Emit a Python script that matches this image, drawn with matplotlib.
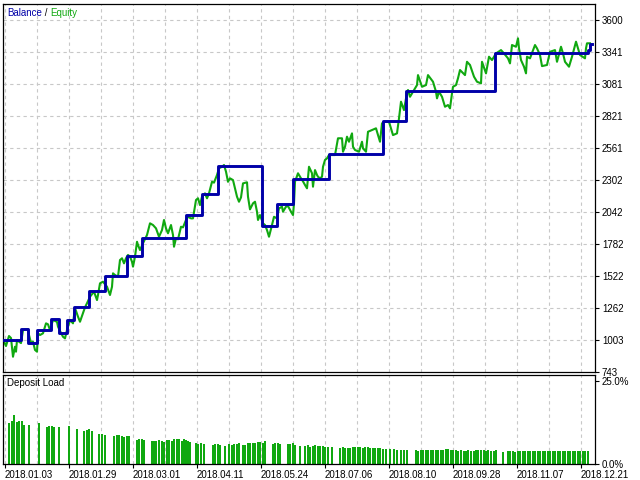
import matplotlib
matplotlib.use('Agg')
import matplotlib.pyplot as plt

# balance steps: position along the test, level after the deal
bal_pos = [4, 21, 28, 37, 51, 59, 67, 74, 89, 105, 127, 142, 186, 202, 218,
           262, 277, 293, 329, 383, 406, 495, 588, 590]
bal_val = [1003, 1092, 981, 1084, 1173, 1062, 1165, 1273, 1400, 1525, 1687, 1833,
           2017, 2188, 2417, 1928, 2104, 2309, 2512, 2780, 3024, 3334, 3360, 3405]

eq_pos = [4, 6, 9, 11, 13, 15, 16, 17, 19, 21, 23, 28, 29, 31, 33, 35, 37, 38, 40, 43,
          46, 48, 50, 53, 57, 58, 61, 63, 65, 67, 70, 73, 75, 78, 80, 83, 85, 87, 90, 94,
          97, 98, 100, 103, 107, 110, 112, 113, 115, 118, 120, 122, 124, 126, 128, 130, 132,
          133, 135, 137, 138, 140, 143, 147, 150, 153, 156, 159, 162, 164, 166, 168, 171,
          173, 174, 176, 178, 181, 183, 186, 188, 191, 193, 196, 198, 200, 202, 205, 207,
          209, 212, 214, 217, 219, 222, 224, 226, 228, 230, 233, 235, 237, 239, 241, 243,
          247, 248, 250, 253, 255, 257, 258, 260, 263, 265, 267, 269, 272, 274, 277, 279,
          282, 283, 286, 288, 291, 293, 294, 295, 298, 301, 303, 305, 307, 309, 312, 313,
          315, 317, 318, 320, 322, 323, 325, 327, 329, 335, 338, 342, 343, 345, 347, 349,
          352, 353, 355, 359, 362, 363, 366, 368, 372, 376, 378, 380, 382, 384, 389, 391,
          393, 397, 399, 401, 404, 406, 408, 410, 414, 417, 418, 422, 426, 428, 433, 436,
          437, 439, 442, 443, 445, 448, 450, 452, 453, 456, 458, 460, 465, 467, 470, 474,
          477, 481, 482, 486, 489, 492, 496, 501, 504, 508, 510, 512, 516, 518, 519, 521,
          524, 526, 527, 530, 535, 537, 540, 542, 547, 550, 555, 557, 561, 563, 565, 569,
          572, 576, 578, 580, 585, 586, 587, 590]
eq_val = [989, 954, 1035, 1019, 867, 948, 908, 1003, 989, 978, 1084, 1090, 1043, 978, 989,
          922, 908, 1057, 1043, 1057, 1138, 1130, 1084, 1165, 1150, 1111, 1060, 1029, 1016,
          1084, 1165, 1138, 1262, 1192, 1151, 1222, 1268, 1301, 1354, 1395, 1327, 1368, 1463,
          1476, 1435, 1368, 1435, 1544, 1530, 1516, 1652, 1666, 1625, 1666, 1693, 1680, 1638,
          1598, 1679, 1800, 1774, 1733, 1788, 1855, 1950, 1936, 1909, 1841, 1895, 1977, 1909,
          1869, 1936, 1855, 1760, 1828, 1820, 1922, 1917, 1977, 2003, 1990, 1990, 2139, 2153,
          2098, 2166, 2193, 2153, 2193, 2287, 2280, 2342, 2396, 2409, 2423, 2369, 2287, 2315,
          2301, 2234, 2166, 2125, 2160, 2274, 2283, 2166, 2063, 2112, 2125, 2044, 1977, 2017,
          1950, 1936, 1895, 1841, 1936, 2003, 1990, 2071, 2085, 2044, 2085, 2090, 2044, 2017,
          2112, 2287, 2356, 2315, 2290, 2261, 2234, 2409, 2356, 2247, 2382, 2342, 2328, 2315,
          2328, 2409, 2464, 2477, 2504, 2504, 2640, 2640, 2531, 2571, 2653, 2612, 2680, 2571,
          2545, 2531, 2612, 2558, 2531, 2693, 2707, 2721, 2666, 2612, 2761, 2774, 2774, 2721,
          2666, 2680, 2802, 2937, 2869, 2964, 3032, 2977, 3032, 3072, 3153, 3058, 3072, 3153,
          3099, 3018, 2964, 3018, 2977, 2950, 2896, 2910, 2883, 3005, 3058, 3072, 3127, 3194,
          3153, 3261, 3235, 3140, 3099, 3086, 3261, 3167, 3302, 3275, 3329, 3356, 3329, 3289,
          3248, 3397, 3383, 3451, 3370, 3275, 3221, 3167, 3302, 3289, 3397, 3370, 3316, 3226,
          3235, 3342, 3356, 3261, 3383, 3329, 3261, 3221, 3302, 3424, 3370, 3316, 3289, 3370,
          3411, 3411]

# deposit load, percent
load_pos = [8.3, 10.7, 13.3, 15.7, 18.3, 20.7, 23.3, 28.3, 38.3, 45.7, 48.3, 50.7, 53.3, 58.3,
            68.3, 76, 83.3, 85.7, 88.3, 90.7, 98.3, 100.7, 104, 113.3, 115.7, 118.3, 120.7,
            123.3, 126, 128.3, 135.7, 138.3, 140.7, 143.3, 150.7, 153, 155, 158.3, 161, 163.3,
            166, 168.3, 170.7, 173.3, 176, 178.3, 180.7, 183, 185, 187.3, 189.3, 195, 197.3,
            200, 203.3, 211.7, 214.3, 216.7, 219, 224, 228.3, 230.7, 233.3, 235.7, 238.3,
            241.7, 244.3, 246.7, 249.3, 251.7, 254, 256.7, 259, 261.7, 264, 271.7, 274, 276.7,
            279, 286.7, 289, 291.7, 294, 299, 304, 306.7, 309.3, 311.7, 314.3, 316.7, 319,
            321.7, 324.3, 327.3, 330.7, 339, 341.7, 344, 346.7, 349.3, 351.7, 354, 356.7,
            359.3, 361.7, 364, 366.7, 369.3, 371.7, 374, 376.7, 379.3, 381.7, 385, 389, 392.7,
            396, 400, 403.3, 406, 415, 417.3, 420, 422.3, 425, 427.3, 430, 432.3, 435, 437.3,
            440, 442.3, 445, 447.3, 450, 452.3, 455, 457.3, 460, 462.7, 465, 467.3, 470, 472.7,
            475, 477.3, 480, 482.7, 485, 487.3, 490, 492.7, 495, 501.7, 506.7, 509, 511.7,
            514.3, 516.7, 519.3, 521.7, 524.3, 526.7, 529, 531.7, 534, 536.7, 539, 541.7, 544,
            546.7, 549.3, 551.7, 554, 556.7, 559.3, 561.7, 564, 566.7, 569.3, 571.7, 574,
            576.7, 579.3, 581.7, 584, 586.7]
load_val = [12.4, 12.9, 14.8, 12.7, 12.9, 12.9, 11.8, 11.8, 12.3, 11.2, 11.4, 11.4, 11.0, 11.1,
            11.5, 10.5, 10.0, 10.2, 10.5, 9.9, 9.1, 9.1, 8.8, 8.4, 8.7, 8.7, 8.4, 8.1, 8.4, 8.5,
            7.3, 7.5, 7.4, 7.2, 7.0, 7.0, 7.0, 7.2, 7.0, 6.7, 7.2, 7.2, 7.0, 7.5, 7.4, 7.4, 6.9,
            7.4, 7.1, 6.8, 6.7, 6.2, 6.1, 6.2, 6.0, 5.8, 6.0, 6.0, 5.7, 5.5, 5.9, 5.7, 6.0, 6.1,
            6.2, 5.8, 5.8, 6.2, 6.4, 6.3, 6.3, 6.5, 6.5, 6.3, 6.9, 6.1, 6.3, 6.3, 6.0, 6.0, 6.0,
            6.2, 5.6, 5.4, 5.4, 5.6, 5.1, 5.5, 5.8, 5.3, 5.4, 5.4, 5.2, 5.1, 5.1, 4.8, 5.0, 4.9,
            4.8, 4.9, 5.0, 5.1, 5.1, 5.0, 4.8, 5.1, 5.0, 4.9, 4.8, 4.8, 4.8, 4.8, 4.6, 4.5, 4.5,
            4.5, 4.3, 4.2, 4.2, 4.2, 4.2, 3.9, 4.1, 4.2, 4.2, 4.1, 4.2, 4.2, 4.2, 4.3, 4.2, 4.2,
            4.5, 4.4, 4.3, 4.2, 4.1, 4.0, 4.1, 4.0, 4.0, 4.1, 4.0, 4.0, 4.1, 4.1, 4.2, 4.1, 4.0,
            4.1, 3.9, 4.0, 4.1, 3.6, 3.9, 3.9, 3.9, 3.7, 3.8, 3.9, 3.9, 3.9, 3.9, 3.9, 3.9, 3.9,
            3.8, 3.9, 3.9, 3.9, 4.0, 3.9, 3.9, 3.9, 3.9, 3.9, 3.9, 3.8, 3.9, 3.9, 3.9, 3.8, 3.9,
            3.9, 3.9, 3.9, 3.8]

date_labels = ['2018.01.03', '2018.01.29', '2018.03.01', '2018.04.11', '2018.05.24',
               '2018.07.06', '2018.08.10', '2018.09.28', '2018.11.07', '2018.12.21']
bal_ticks = [743, 1003, 1262, 1522, 1782, 2042, 2302, 2561, 2821, 3081, 3341, 3600]

BLUE = '#0000A8'
GREEN = '#10A810'
GRID = '#C8C8C8'
plt.rcParams['font.family'] = ['Liberation Sans', 'DejaVu Sans']
plt.rcParams['font.size'] = 7

W, H = 640, 480
fig = plt.figure(figsize=(6.4, 4.8), dpi=100)
ax = fig.add_axes([3 / W, 1 - 372 / H, 592 / W, 368 / H])
ax2 = fig.add_axes([3 / W, 1 - 464 / H, 592 / W, 89 / H])

grid_x = [4.7 + 32 * k for k in range(19)]
label_x = grid_x[::2]

for a in (ax, ax2):
    a.set_xlim(3, 595)
    for gx in grid_x:
        a.axvline(gx, color=GRID, lw=0.8, ls=(0, (3, 3)), zorder=0)
    for s in a.spines.values():
        s.set_color('black')
        s.set_linewidth(0.9)
    a.yaxis.tick_right()
    a.tick_params(axis='y', direction='out', length=3, width=0.8, pad=2, labelsize=7)

# main panel
ax.set_ylim(743, 3730)
ax.set_yticks(bal_ticks)
ax.set_yticklabels([str(t) for t in bal_ticks])
for t in bal_ticks[1:]:
    ax.axhline(t, color=GRID, lw=0.8, ls=(0, (3, 3)), zorder=0)
ax.set_xticks([])
ax.plot(eq_pos, eq_val, color=GREEN, lw=1.5, zorder=2)
ax.plot(bal_pos + [592], bal_val + [bal_val[-1]], color=BLUE, lw=2.1,
        drawstyle='steps-post', zorder=3)

t1 = ax.text(4 / 592, 1 - 9 / 368, 'Balance', color=BLUE, transform=ax.transAxes,
             ha='left', va='center', fontsize=7)
t2 = ax.annotate(' / ', xy=(1, 0), xycoords=t1, ha='left', va='bottom',
                 color='black', fontsize=7)
ax.annotate('Equity', xy=(1, 0), xycoords=t2, ha='left', va='bottom',
            color=GREEN, fontsize=7)

# deposit load panel
ax2.set_ylim(0, 26.8)
ax2.set_yticks([0, 25])
ax2.set_yticklabels(['0.0%', '25.0%'])
ax2.bar(load_pos, load_val, width=2.0, color=GREEN, align='edge', zorder=2)
ax2.set_xticks(label_x)
ax2.set_xticklabels(date_labels, ha='left')
ax2.tick_params(axis='x', direction='out', length=3, width=0.8, pad=1, labelsize=7)
ax2.text(4 / 592, 1 - 8 / 89, 'Deposit Load', color='black', transform=ax2.transAxes,
         ha='left', va='center', fontsize=7)

fig.savefig('out.png', dpi=100)
